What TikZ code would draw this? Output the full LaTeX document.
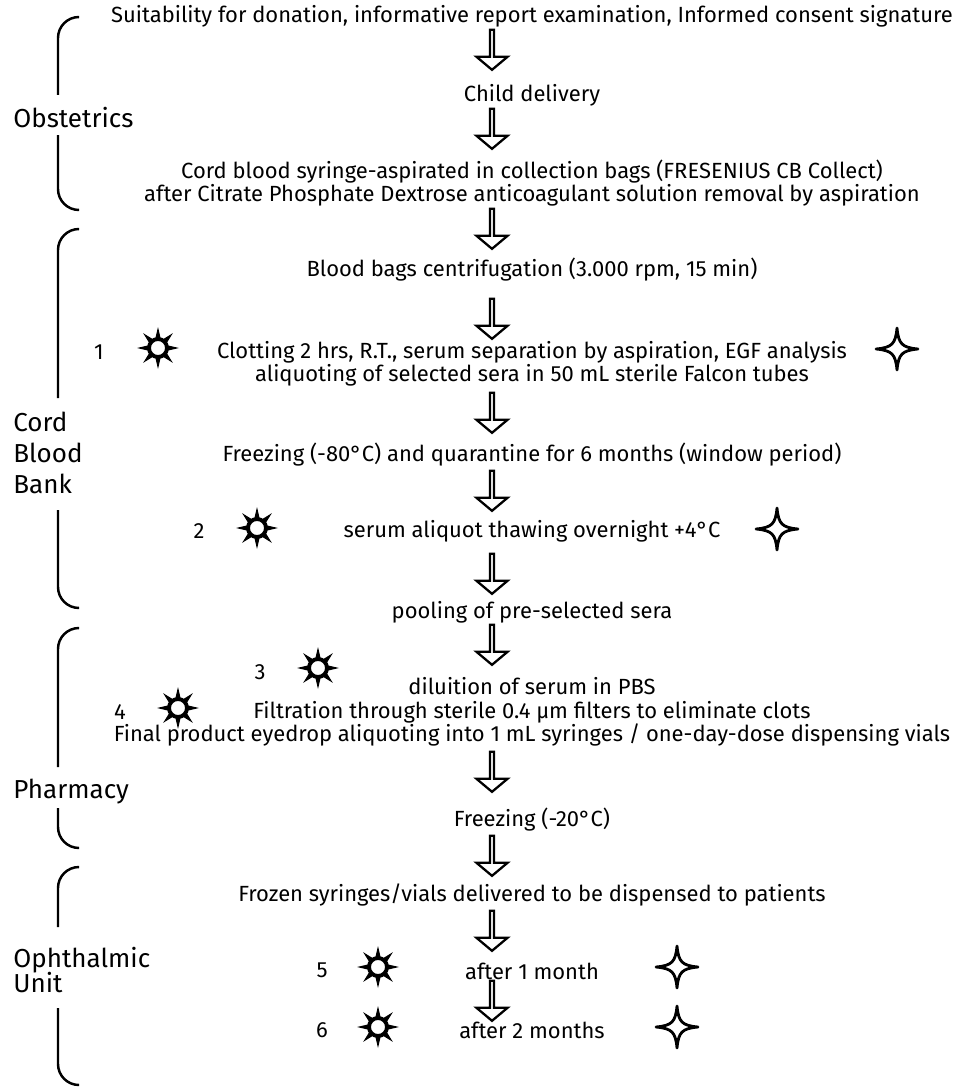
\documentclass[tikz,border=0pt]{standalone}
\usepackage{fontspec}
\setmainfont{Fira Sans}
\usepackage{tikz}
\usetikzlibrary{shapes.arrows}

\begin{document}
\begin{tikzpicture}[x=0.02cm, y=-0.02cm,
   every node/.style={font=\fontsize{12.5pt}{13.3pt}\selectfont},
   txt/.style={align=center, inner sep=0pt},
   dept/.style={align=left, anchor=west, inner sep=0pt,
                font=\fontsize{14.8pt}{17.6pt}\selectfont},
   num/.style={inner sep=0pt},
   flowarrow/.style={single arrow, draw, fill=white, line width=1.3pt,
                shape border rotate=270, inner sep=0pt,
                minimum height=0.8cm, minimum width=0.62cm,
                single arrow head extend=0.16cm, single arrow tip angle=100},
   brace/.style={line width=1.4pt, rounded corners=0.42cm},
   sun/.pic={
     \foreach \a in {0,45,...,315}
       \fill (\a-19:9) -- (\a:21) -- (\a+19:9) -- cycle;
     \draw[line width=2.2pt, fill=white] (0,0) circle[radius=9];
   },
   sparkle/.pic={
     \draw[line width=1.6pt, fill=white, line join=round]
       (0,-21) .. controls (1.5,-5) and (5,-1.5) .. (21,0)
       .. controls (5,1.5) and (1.5,5) .. (0,21)
       .. controls (-1.5,5) and (-5,1.5) .. (-21,0)
       .. controls (-5,-1.5) and (-1.5,-5) .. (0,-21) -- cycle;
   }]
  \useasboundingbox (0,0) rectangle (968,1088);

  % Departments
  \node[dept] (obst) at (13,118) {Obstetrics};
  \draw[brace] (78,17) -| (58,95);
  \draw[brace] (58,135) |- (78,210);
  \node[dept] (bank) at (13,453) {Cord\\Blood\\Bank};
  \draw[brace] (78,229) -| (58,398);
  \draw[brace] (58,510) |- (78,608);
  \node[dept] (pharm) at (13,792) {Pharmacy};
  \draw[brace] (78,628) -| (58,767);
  \draw[brace] (58,808) |- (78,848);
  \node[dept] (oph) at (13,970) {Ophthalmic\\[-3.4pt]Unit};
  \draw[brace] (78,867) -| (58,927);
  \draw[brace] (58,1008) |- (78,1085);

  % Steps
  \node[txt] (t1) at (532,16) {Suitability for donation, informative report examination, Informed consent signature};
  \node[txt] (t2) at (532,95) {Child delivery};
  \node[txt] (t3) at (532,183) {Cord blood syringe-aspirated in collection bags (FRESENIUS CB Collect)\\
       after Citrate Phosphate Dextrose anticoagulant solution removal by aspiration};
  \node[txt] (t4) at (532,270) {Blood bags centrifugation (3.000 rpm, 15 min)};
  \node[txt] (t5) at (532,364) {Clotting 2 hrs, R.T., serum separation by aspiration, EGF analysis\\
       aliquoting of selected sera in 50 mL sterile Falcon tubes};
  \node[txt] (t6) at (532,455) {Freezing (-80°C) and quarantine for 6 months (window period)};
  \node[txt] (t7) at (532,531) {serum aliquot thawing overnight +4°C};
  \node[txt] (t8) at (532,612) {pooling of pre-selected sera};
  \node[txt] (t9) at (532,712) {diluition of serum in PBS\\
       Filtration through sterile 0.4 µm filters to eliminate clots\\
       Final product eyedrop aliquoting into 1 mL syringes / one-day-dose dispensing vials};
  \node[txt] (t10) at (532,820) {Freezing (-20°C)};
  \node[txt] (t11) at (532,895) {Frozen syringes/vials delivered to be dispensed to patients};
  \node[txt] (t12) at (532,971) {after 1 month};
  \node[txt] (t13) at (532,1030) {after 2 months};

  % Block arrows
  \node[flowarrow] (a1) at (492,49) {};
  \node[flowarrow] (a2) at (492,128) {};
  \node[flowarrow] (a3) at (492,228) {};
  \node[flowarrow] (a4) at (492,318) {};
  \node[flowarrow] (a5) at (492,412) {};
  \node[flowarrow] (a6) at (492,490) {};
  \node[flowarrow] (a7) at (492,573) {};
  \node[flowarrow] (a8) at (492,644) {};
  \node[flowarrow] (a9) at (492,771) {};
  \node[flowarrow] (a10) at (492,855) {};
  \node[flowarrow] (a11) at (492,930) {};
  \node[flowarrow] (a12) at (492,1000) {};

  % Check points
  \node[num] (n1) at (99,352) {1};
  \pic (s1) at (158,348) {sun};
  \pic (k1) at (897,349) {sparkle};
  \node[num] (n2) at (199,531) {2};
  \pic (s2) at (257,528) {sun};
  \pic (k2) at (777,529) {sparkle};
  \node[num] (n3) at (260,672) {3};
  \pic (s3) at (318,668) {sun};
  \node[num] (n4) at (120,712) {4};
  \pic (s4) at (178,708) {sun};
  \node[num] (n5) at (322,970) {5};
  \pic (s5) at (378,967) {sun};
  \pic (k5) at (677,967) {sparkle};
  \node[num] (n6) at (322,1030) {6};
  \pic (s6) at (378,1027) {sun};
  \pic (k6) at (677,1027) {sparkle};
\end{tikzpicture}
\end{document}
